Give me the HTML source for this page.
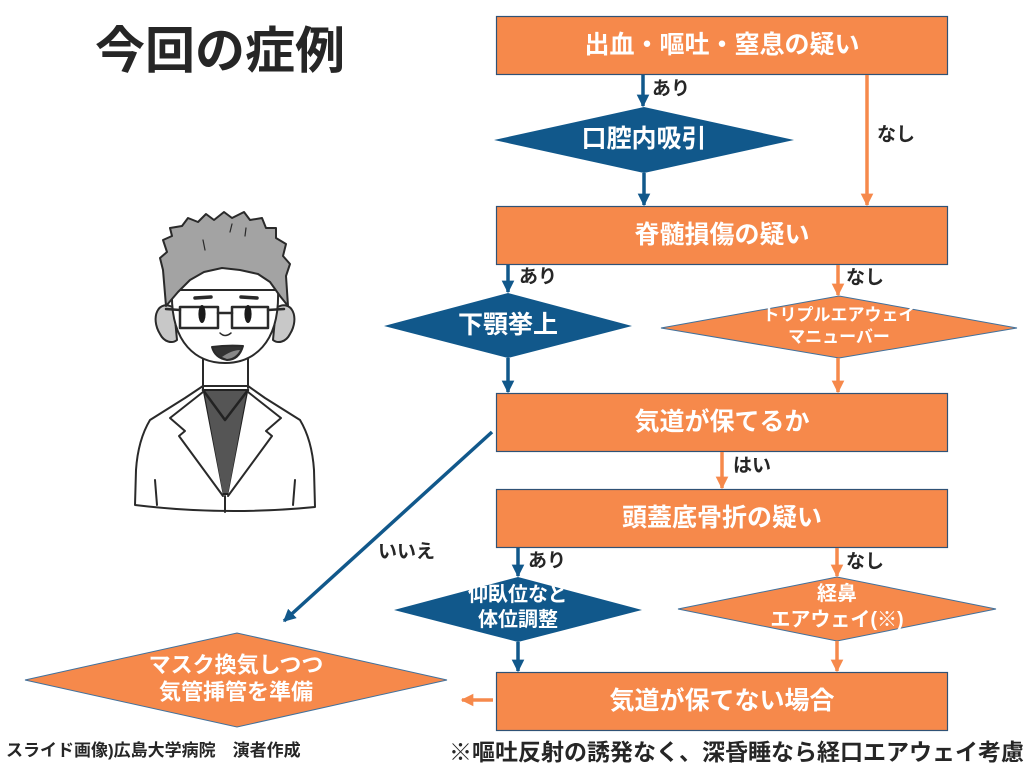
<!DOCTYPE html>
<html><head><meta charset="utf-8"><style>
html,body{margin:0;padding:0;background:#fff;}
svg{display:block;}
text{font-family:"Liberation Sans","Noto Sans CJK JP",sans-serif;}
</style></head><body>
<svg width="1024" height="768" viewBox="0 0 1024 768" xmlns="http://www.w3.org/2000/svg">
<defs>
<marker id="ab" viewBox="0 0 10 10" refX="9" refY="5" markerWidth="3.6" markerHeight="3.6" orient="auto"><path d="M0,0 L10,5 L0,10 z" fill="#11588b"/></marker>
<marker id="ao" viewBox="0 0 10 10" refX="9" refY="5" markerWidth="3.6" markerHeight="3.6" orient="auto"><path d="M0,0 L10,5 L0,10 z" fill="#f6894b"/></marker>
</defs>

<!-- Title -->
<text x="95" y="68" font-size="50" font-weight="bold" fill="#262626">今回の症例</text>

<!-- Doctor -->
<g stroke="#2a2a2a" stroke-width="2" stroke-linejoin="round" stroke-linecap="round">
  <!-- coat -->
  <path d="M203,386 L185,398 L150,420 Q138,440 136,470 L135,505 Q225,516 315,507 L314,470 Q312,440 300,420 L265,398 L248,386 Z" fill="#fff"/>
  <!-- shirt -->
  <path d="M203,390 L248,390 L229,494 L222,494 Z" fill="#555" stroke="#222"/>
  <path d="M203,390 L225,420 L248,390" fill="none" stroke="#222" stroke-width="2.5"/>
  <!-- lapels -->
  <path d="M203,392 L170,418 L185,431 L179,436 L223,496" fill="#fff"/>
  <path d="M248,392 L281,418 L266,431 L272,436 L228,496" fill="#fff"/>
  <line x1="225" y1="496" x2="225" y2="512"/>
  <line x1="155" y1="480" x2="157" y2="505"/>
  <line x1="295" y1="480" x2="293" y2="505"/>
  <!-- neck -->
  <path d="M203,352 L203,390 M248,352 L248,388" fill="none"/>
  <!-- ears -->
  <path d="M174,308 C158,298 150,318 160,334 C164,342 172,344 177,340 Z" fill="#c8c8c8"/>
  <path d="M276,308 C292,298 300,318 290,334 C286,342 278,344 273,340 Z" fill="#c8c8c8"/>
  <!-- face -->
  <path d="M172,290 C170,345 198,363 225,363 C252,363 280,345 278,290 Z" fill="#fff"/>
  <!-- hair -->
  <path d="M166,306 L163,270 L160,258 L167,252 L163,240 L172,236 L170,228 L182,226 L188,218 L198,222 L206,214 L214,220 L224,212 L232,218 L244,212 L250,220 L262,218 L266,228 L276,228 L276,238 L286,244 L283,256 L290,264 L286,276 L288,306 L280,296 L270,282 L258,274 L240,270 L222,268 L204,272 L190,280 L178,292 Z" fill="#a3a3a3"/>
  <path d="M205,250 L203,240 M245,236 L246,228 M230,232 L232,224" fill="none" stroke-width="1.2"/>
  <!-- glasses -->
  <rect x="180" y="307" width="38" height="21" fill="none" stroke-width="2.5"/>
  <rect x="232" y="307" width="36" height="21" fill="none" stroke-width="2.5"/>
  <path d="M218,313 L232,313 M180,310 L166,309 M268,310 L284,309" fill="none" stroke-width="2.5"/>
  <!-- brows -->
  <path d="M195,298 L211,297 M241,297 L257,298" fill="none" stroke-width="3.5"/>
  <!-- nose -->
  <path d="M220,333 Q225,338 231,333" fill="none" stroke-width="1.5"/>
  <!-- mouth -->
  <path d="M212,347 Q227,345 243,346 Q239,360 227,360 Q215,358 212,347 Z" fill="#333"/>
  <path d="M222,357 Q232,350 240,350 Q236,358 227,359 Z" fill="#888" stroke="none"/>
</g>
<ellipse cx="202" cy="314" rx="3.6" ry="9" fill="#1a1a1a"/>
<ellipse cx="248" cy="314" rx="3.6" ry="9" fill="#1a1a1a"/>

<!-- Boxes -->
<g fill="#f6894b" stroke="#2f5276" stroke-width="1.2">
  <rect x="496.5" y="16.5" width="451" height="58"/>
  <rect x="496.5" y="206.5" width="451" height="58"/>
  <rect x="496.5" y="393.5" width="451" height="58"/>
  <rect x="496.5" y="489.5" width="451" height="58"/>
  <rect x="496.5" y="672.5" width="451" height="58"/>
</g>

<!-- Diamonds -->
<polygon points="494,140 644,107 794,140 644,173" fill="#11588b"/>
<polygon points="384,326 508,293 632,326 508,358" fill="#11588b"/>
<polygon points="394,610 518,577 642,610 518,642" fill="#11588b"/>
<polygon points="661,328 839,296 1017,328 839,358" fill="#f6894b" stroke="#41719c" stroke-width="1"/>
<polygon points="678,609 837,577 996,609 837,641" fill="#f6894b" stroke="#41719c" stroke-width="1"/>
<polygon points="25,680 237,633 447,680 237,727" fill="#f6894b" stroke="#41719c" stroke-width="1"/>

<!-- Arrows -->
<g stroke-width="3.5" fill="none">
  <line x1="643" y1="75" x2="643" y2="106" stroke="#11588b" marker-end="url(#ab)"/>
  <line x1="644" y1="173" x2="644" y2="205" stroke="#11588b" marker-end="url(#ab)"/>
  <line x1="867" y1="75" x2="867" y2="205" stroke="#f6894b" marker-end="url(#ao)"/>
  <line x1="508" y1="265" x2="508" y2="292" stroke="#11588b" marker-end="url(#ab)"/>
  <line x1="838" y1="265" x2="838" y2="295" stroke="#f6894b" marker-end="url(#ao)"/>
  <line x1="508" y1="358" x2="508" y2="392" stroke="#11588b" marker-end="url(#ab)"/>
  <line x1="838" y1="358" x2="838" y2="392" stroke="#f6894b" marker-end="url(#ao)"/>
  <line x1="722" y1="452" x2="722" y2="488" stroke="#f6894b" marker-end="url(#ao)"/>
  <line x1="518" y1="548" x2="518" y2="576" stroke="#11588b" marker-end="url(#ab)"/>
  <line x1="837" y1="548" x2="837" y2="576" stroke="#f6894b" marker-end="url(#ao)"/>
  <line x1="518" y1="642" x2="518" y2="671" stroke="#11588b" marker-end="url(#ab)"/>
  <line x1="837" y1="641" x2="837" y2="671" stroke="#f6894b" marker-end="url(#ao)"/>
  <line x1="492" y1="432" x2="284" y2="621" stroke="#11588b" marker-end="url(#ab)"/>
  <line x1="493" y1="700" x2="462" y2="700" stroke="#f6894b" marker-end="url(#ao)"/>
</g>

<!-- Box / diamond texts -->
<g fill="#fff" font-weight="bold" text-anchor="middle" dominant-baseline="central">
  <text x="722" y="45" font-size="25">出血・嘔吐・窒息の疑い</text>
  <text x="644" y="139" font-size="25">口腔内吸引</text>
  <text x="722" y="235" font-size="25">脊髄損傷の疑い</text>
  <text x="508" y="325" font-size="25">下顎挙上</text>
  <text x="839" y="315" font-size="17">トリプルエアウェイ</text>
  <text x="839" y="337" font-size="17">マニューバー</text>
  <text x="722" y="422" font-size="25">気道が保てるか</text>
  <text x="722" y="518" font-size="25">頭蓋底骨折の疑い</text>
  <text x="518" y="595" font-size="20">仰臥位など</text>
  <text x="518" y="620" font-size="20">体位調整</text>
  <text x="837" y="594" font-size="20">経鼻</text>
  <text x="837" y="620" font-size="20">エアウェイ(※)</text>
  <text x="722" y="701" font-size="25">気道が保てない場合</text>
  <text x="236" y="665" font-size="22">マスク換気しつつ</text>
  <text x="236" y="692" font-size="22">気管挿管を準備</text>
</g>

<!-- Labels -->
<g fill="#262626" font-weight="bold" font-size="19" dominant-baseline="central">
  <text x="652" y="89">あり</text>
  <text x="877" y="135">なし</text>
  <text x="519" y="277">あり</text>
  <text x="846" y="278">なし</text>
  <text x="733" y="466">はい</text>
  <text x="528" y="561">あり</text>
  <text x="846" y="562">なし</text>
  <text x="378" y="552">いいえ</text>
</g>

<!-- Footer -->
<text x="6" y="756" font-size="17" font-weight="bold" fill="#262626">スライド画像)広島大学病院　演者作成</text>
<text x="449" y="760" font-size="23" font-weight="bold" fill="#262626">※嘔吐反射の誘発なく、深昏睡なら経口エアウェイ考慮</text>
</svg>
</body></html>
